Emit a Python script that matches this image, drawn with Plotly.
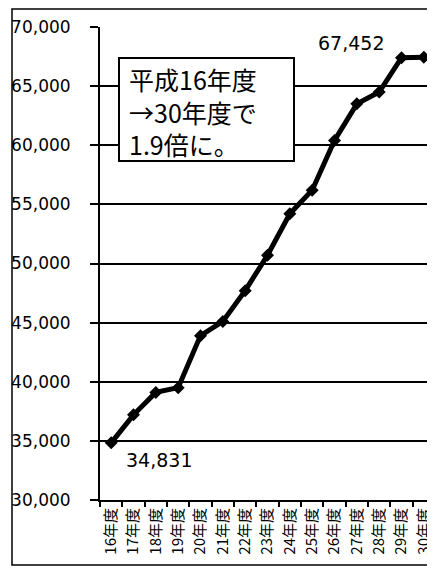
import plotly.graph_objects as go

categories = ["16年度", "17年度", "18年度", "19年度", "20年度", "21年度", "22年度", "23年度",
              "24年度", "25年度", "26年度", "27年度", "28年度", "29年度", "30年度"]
values = [34831, 37200, 39100, 39500, 43900, 45100, 47700, 50700,
          54200, 56200, 60400, 63500, 64500, 67400, 67452]
y_ticks = [30000, 35000, 40000, 45000, 50000, 55000, 60000, 65000, 70000]
box_text = "平成16年度<br>→30年度で<br>1.9倍に。"

OFF = 8  # page body margin
W, H = 427, 570
L, R, T, B = 92, 0, 19, 78
PW, PH = W - L - R, H - T - B

def px(x):
    return (x - OFF - L) / PW

def py(y):
    return (H - B - (y - OFF)) / PH

fig = go.Figure()
fig.add_trace(go.Scatter(
    x=categories, y=values, mode="lines+markers",
    line=dict(color="black", width=5),
    marker=dict(symbol="diamond", size=10, color="black"),
    cliponaxis=False, showlegend=False,
))

num_font = dict(family="DejaVu Sans", size=19, color="black")
fig.add_annotation(x=categories[0], y=values[0], text=f"{values[0]:,}",
                   showarrow=False, xanchor="left", yanchor="middle",
                   xshift=13, yshift=-17, font=num_font)
fig.add_annotation(x=categories[-1], y=values[-1], text=f"{values[-1]:,}",
                   showarrow=False, xanchor="right", yanchor="middle",
                   xshift=-38, yshift=14, font=num_font)

# text box
fig.add_shape(type="rect", xref="paper", yref="paper",
              x0=px(119), x1=px(294), y0=py(161), y1=py(58),
              line=dict(color="black", width=2), fillcolor="white", layer="above")
fig.add_annotation(xref="paper", yref="paper", x=px(127), y=py(111),
                   text=box_text, showarrow=False, xanchor="left", yanchor="middle",
                   align="left",
                   font=dict(family="Noto Sans CJK JP", size=25, color="black"))

# outer chart border
fig.add_shape(type="rect", xref="paper", yref="paper",
              x0=px(12), x1=px(445), y0=py(565), y1=py(9),
              line=dict(color="black", width=1.5), layer="above")

fig.update_layout(
    width=W, height=H,
    margin=dict(l=L, r=R, t=T, b=B, autoexpand=False),
    paper_bgcolor="white", plot_bgcolor="white",
    showlegend=False,
)
fig.update_xaxes(
    type="category", range=[-0.5, 14.5],
    showline=True, linecolor="black", linewidth=2,
    ticks="outside", ticklen=5, tickcolor="black", tickwidth=1.5,
    tickson="boundaries", tickangle=-90,
    tickfont=dict(family="Noto Sans CJK JP", size=15, color="black"),
    showgrid=False, zeroline=False,
)
fig.update_yaxes(
    range=[30000, 70000], tickvals=y_ticks,
    ticktext=[f"{v:,}" for v in y_ticks],
    showline=True, linecolor="black", linewidth=2,
    ticks="outside", ticklen=8, tickcolor="black", tickwidth=2,
    ticklabelstandoff=16,
    tickfont=dict(family="DejaVu Sans", size=17, color="black"),
    showgrid=True, gridcolor="black", gridwidth=2, zeroline=False,
)

fig.write_html("out.html")
